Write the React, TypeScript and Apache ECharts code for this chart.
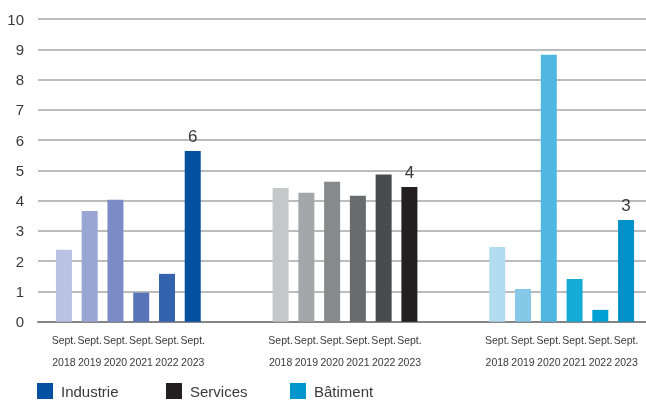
import React, { useEffect, useRef } from "react";
import * as echarts from "echarts";

const groups = ["Industrie", "Services", "Bâtiment"];
const years = ["2018", "2019", "2020", "2021", "2022", "2023"];
const values: number[][] = [
  // [Industrie, Services, Bâtiment] per year
  [2.38, 4.42, 2.47],
  [3.66, 4.26, 1.08],
  [4.03, 4.62, 8.82],
  [0.96, 4.16, 1.41],
  [1.58, 4.86, 0.39],
  [5.64, 4.45, 3.36],
];
const barColors: string[][] = [
  ["#b9c2e2", "#c6c7c9", "#b3dcf1"],
  ["#99a5d3", "#a5a6a9", "#86c8e8"],
  ["#7a8bc5", "#88898c", "#50b8e0"],
  ["#5874b8", "#6a6b6e", "#14abd6"],
  ["#3562ae", "#4a4b4d", "#00a1d2"],
  ["#0451a2", "#231f20", "#0091c8"],
];
const legendColors = ["#0451a2", "#231f20", "#0097cc"];
const yTicks = { min: 0, max: 10, interval: 1 };

const SANS = '"Liberation Sans", Arial, sans-serif';
const TXT = "#3a3a3a";

export default function App() {
  const ref = useRef<HTMLDivElement>(null);
  useEffect(() => {
    if (!ref.current) return;
    const chart = echarts.init(ref.current, null, { renderer: "svg" });
    const last = years.length - 1;
    const yearSeries = years.map((yr, i) => ({
      type: "bar",
      name: "Sept. " + yr,
      xAxisIndex: 0,
      yAxisIndex: 0,
      barWidth: 16,
      barGap: "61%",
      stack: i === last ? "lastYear" : undefined,
      data: values[i].map((v, g) => ({ value: v, itemStyle: { color: barColors[i][g] } })),
      label: {
        show: true,
        position: "bottom",
        distance: 7,
        formatter: "Sept.\n" + yr,
        fontFamily: SANS,
        fontSize: 10.5,
        lineHeight: 22,
        color: TXT,
      },
    }));
    const topLabels = {
      type: "bar",
      name: "labels",
      xAxisIndex: 0,
      yAxisIndex: 0,
      barWidth: 16,
      barGap: "61%",
      stack: "lastYear",
      data: values[last].map(() => 0),
      itemStyle: { color: "transparent" },
      label: {
        show: true,
        position: "top",
        distance: 6,
        formatter: (p: any) => String(Math.round(values[last][p.dataIndex])),
        fontFamily: SANS,
        fontSize: 17,
        color: TXT,
      },
    };
    const legendSeries = groups.map((g, k) => ({
      type: "bar",
      name: g,
      xAxisIndex: 1,
      yAxisIndex: 1,
      data: [],
      itemStyle: { color: legendColors[k] },
    }));
    const legendLefts = [37, 166, 290];
    chart.setOption({
      animation: false,
      grid: [
        { left: 20, right: -24, top: 19, bottom: 78.3, outerBoundsMode: "none", containLabel: false },
        { left: 38, right: 0, top: 19, bottom: 78.3, outerBoundsMode: "none", containLabel: false },
      ],
      xAxis: [
        { type: "category", gridIndex: 0, data: groups, show: false },
        {
          type: "category",
          gridIndex: 1,
          data: groups,
          axisLine: { show: true, lineStyle: { color: "#858585", width: 2 } },
          axisTick: { show: false },
          axisLabel: { show: false },
        },
      ],
      yAxis: [
        { type: "value", gridIndex: 0, ...yTicks, show: false },
        {
          type: "value",
          gridIndex: 1,
          ...yTicks,
          axisLine: { show: false },
          axisTick: { show: false },
          splitLine: { show: true, lineStyle: { color: "#a6a6a6", width: 1.5 } },
          axisLabel: { margin: 14, fontFamily: SANS, fontSize: 15, color: TXT },
        },
      ],
      legend: groups.map((g, k) => ({
        data: [g],
        left: legendLefts[k],
        top: 383,
        padding: 0,
        itemWidth: 16,
        itemHeight: 16,
        icon: "rect",
        selectedMode: false,
        textStyle: { fontFamily: SANS, fontSize: 15, color: TXT, padding: [0, 0, 0, 3] },
      })),
      series: [...yearSeries, topLabels, ...legendSeries],
    });
    return () => chart.dispose();
  }, []);
  return <div ref={ref} style={{ position: "fixed", left: 0, top: 0, width: 646, height: 400 }} />;
}
